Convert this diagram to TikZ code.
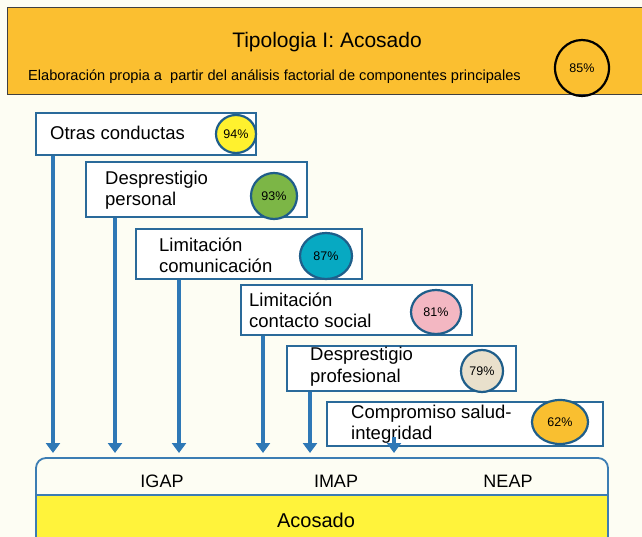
\documentclass[tikz,border=0pt]{standalone}
\usepackage{fontspec}
\setmainfont{Liberation Sans}
\usetikzlibrary{arrows.meta,shapes.geometric}
\definecolor{bg}{HTML}{FDFDF3}
\definecolor{banner}{HTML}{FBBF30}
\definecolor{boxline}{HTML}{2A6A9A}
\definecolor{arrowc}{HTML}{2E78B6}
\definecolor{circline}{HTML}{1F5E8A}
\definecolor{cyellow}{HTML}{FFF12E}
\definecolor{cgreen}{HTML}{7CB646}
\definecolor{cteal}{HTML}{07A9C2}
\definecolor{cpink}{HTML}{F3B7C2}
\definecolor{cbeige}{HTML}{E9E0CC}
\definecolor{corange}{HTML}{F9BF30}
\definecolor{baseyellow}{HTML}{FFF33B}
\definecolor{basecol}{HTML}{3C7DB3}
\tikzset{
  boxsty/.style={draw=boxline, line width=1.8pt, fill=white, rectangle, inner sep=0pt},
  pct/.style={ellipse, draw=circline, line width=2.2pt, inner sep=0pt, font=\fontsize{12.5}{14}\selectfont},
  lbl/.style={anchor=west, align=left, inner sep=0pt, font=\fontsize{18.5}{21.5}\selectfont},
  arr/.style={draw=arrowc, line width=4.5pt, -{Triangle[width=14pt,length=10pt]}},
  bottomlbl/.style={inner sep=0pt, font=\fontsize{18}{21}\selectfont},
  baseline line/.style={draw=basecol, line width=1.8pt}
}
\begin{document}
\begin{tikzpicture}[x=1pt,y=-1pt]
\useasboundingbox (0,0) rectangle (642,537);
\fill[bg] (0,0) rectangle (642,537);
% banner
\node[rectangle, draw=black!75, line width=1pt, fill=banner, minimum width=660pt, minimum height=87pt, inner sep=0pt] (banner) at (337,51.5) {};
\node[inner sep=0pt, font=\fontsize{21}{24}\selectfont] (title) at (327,42) {Tipologia I: Acosado};
\node[anchor=west, inner sep=0pt, font=\fontsize{14.6}{17}\selectfont] (sub) at (28,77) {Elaboración propia a\ \ partir del análisis factorial de componentes principales};
\node[ellipse, draw=black, line width=2.2pt, minimum width=54pt, minimum height=56pt, inner sep=0pt, font=\fontsize{12.5}{14}\selectfont] (c0) at (582,68) {85\%};
% boxes
\node[boxsty, minimum width=220pt, minimum height=42pt] (b1) at (146,134) {};
\node[lbl] (l1) at (50,133) {Otras conductas};
\node[pct, fill=cyellow, minimum width=40pt, minimum height=38pt] (c1) at (236,134) {94\%};

\node[boxsty, minimum width=221pt, minimum height=55pt] (b2) at (196.5,189.5) {};
\node[lbl] (l2) at (105,190) {Desprestigio\\personal};
\node[pct, fill=cgreen, minimum width=46pt, minimum height=46pt] (c2) at (274,196) {93\%};

\node[boxsty, minimum width=226pt, minimum height=50pt] (b3) at (249,254) {};
\node[lbl] (l3) at (159,255.5) {Limitación\\comunicación};
\node[pct, fill=cteal, minimum width=52pt, minimum height=46pt] (c3) at (326,256) {87\%};

\node[boxsty, minimum width=231pt, minimum height=50pt] (b4) at (356.5,310) {};
\node[lbl] (l4) at (249,310.5) {Limitación\\contacto social};
\node[pct, fill=cpink, minimum width=50pt, minimum height=44pt] (c4) at (436,312) {81\%};

\node[boxsty, minimum width=229pt, minimum height=45pt] (b5) at (401.5,368.5) {};
\node[lbl] (l5) at (310,366.5) {Desprestigio\\profesional};
\node[pct, fill=cbeige, minimum width=42pt, minimum height=42pt] (c5) at (482,371) {79\%};

\node[boxsty, minimum width=276pt, minimum height=44pt] (b6) at (465,424) {};
\node[lbl] (l6) at (351,424) {Compromiso salud-\\integridad};
\node[pct, fill=corange, minimum width=56pt, minimum height=44pt] (c6) at (560,422) {62\%};

% bottom box
\node[rectangle, rounded corners=10pt, draw=basecol, line width=1.8pt, fill=bg, minimum width=572pt, minimum height=110pt, inner sep=0pt, outer sep=0pt] (base) at (322,513) {};
\fill[baseyellow] (37,495) rectangle (607,545);
\draw[baseline line] (base.west |- 0,495) coordinate (sepl) -- (base.east |- 0,495) coordinate (sepr);
\draw[baseline line] (sepl) -- (sepl |- 0,545);
\draw[baseline line] (sepr) -- (sepr |- 0,545);
\node[bottomlbl] (igap) at (162,481) {IGAP};
\node[bottomlbl] (imap) at (336,481) {IMAP};
\node[bottomlbl] (neap) at (508,481) {NEAP};
\node[inner sep=0pt, font=\fontsize{20}{24}\selectfont] (acos) at (316,520) {Acosado};

% arrows
\coordinate (t1) at (53,453);
\coordinate (t2) at (115,453);
\coordinate (t3) at (179,453);
\coordinate (t4) at (263,453);
\coordinate (t5) at (310,453);
\coordinate (t6) at (394,453);
\coordinate (s6) at (394,437);
\draw[arr] (b1.south -| t1) -- (t1);
\draw[arr] (b2.south -| t2) -- (t2);
\draw[arr] (b3.south -| t3) -- (t3);
\draw[arr] (b4.south -| t4) -- (t4);
\draw[arr] (b5.south -| t5) -- (t5);
\draw[arr] (s6) -- (t6);
\end{tikzpicture}
\end{document}
